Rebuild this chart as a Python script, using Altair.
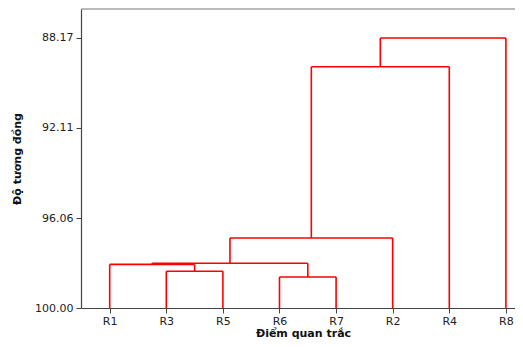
import altair as alt
import pandas as pd
import json

# Leaf order along the x axis
leaves = ["R1", "R3", "R5", "R6", "R7", "R2", "R4", "R8"]

# Merge steps: cluster C{i+1} = merge_a[i] + merge_b[i] at similarity merge_h[i]
merge_a = ["R3", "R6", "R1", "C3", "C4", "C5", "C6"]
merge_b = ["R5", "R7", "C1", "C2", "R2", "R4", "R8"]
merge_h = [98.39, 98.64, 98.09, 98.04, 96.93, 89.43, 88.17]

y_ticks = [88.17, 92.11, 96.06, 100.00]

# Build dendrogram segments from the merge table
pos = {name: i + 1 for i, name in enumerate(leaves)}
hgt = {name: 100.0 for name in leaves}
rows = []
for i, (a, b, h) in enumerate(zip(merge_a, merge_b, merge_h)):
    xa, xb = pos[a], pos[b]
    rows.append({"x": xa, "x2": xa, "y": hgt[a], "y2": h})
    rows.append({"x": xb, "x2": xb, "y": hgt[b], "y2": h})
    rows.append({"x": xa, "x2": xb, "y": h, "y2": h})
    c = f"C{i+1}"
    pos[c] = (xa + xb) / 2
    hgt[c] = h
df = pd.DataFrame(rows)

label_expr = json.dumps(leaves) + "[datum.value - 1]"

FONT = "DejaVu Sans"
W, H = 434, 299

dendro = alt.Chart(df).mark_rule(color="#ff0000", strokeWidth=1.6).encode(
    x=alt.X("x:Q",
            scale=alt.Scale(domain=[0.493, 8.161], nice=False, zero=False),
            axis=alt.Axis(values=list(range(1, len(leaves) + 1)), labelExpr=label_expr,
                          title="Điểm quan trắc", grid=False, tickSize=5,
                          labelPadding=2, titlePadding=1, titleX=222)),
    x2="x2:Q",
    y=alt.Y("y:Q",
            scale=alt.Scale(domain=[86.90, 100.0], reverse=True, nice=False, zero=False),
            axis=alt.Axis(values=y_ticks, format=".2f", title="Độ tương đồng",
                          grid=False, tickSize=5, labelPadding=3, titlePadding=12)),
    y2="y2:Q",
)

top_border = alt.Chart(pd.DataFrame({"k": [0]})).mark_rule(
    color="#777777", strokeWidth=1.2
).encode(x=alt.value(0), x2=alt.value(W), y=alt.value(0))

chart = alt.layer(dendro, top_border).properties(
    width=W, height=H,
    autosize=alt.AutoSizeParams(type="none"),
    padding={"left": 73, "top": 1, "right": 0, "bottom": 31},
).configure_view(
    stroke=None
).configure_axis(
    labelFont=FONT, labelFontSize=11, labelColor="#222222",
    titleFont=FONT, titleFontSize=11, titleFontWeight="bold", titleColor="#111111",
    domainColor="#444444", tickColor="#444444", domainWidth=1.2,
)

chart.save("out.html", embed_options={"renderer": "svg", "actions": False})
